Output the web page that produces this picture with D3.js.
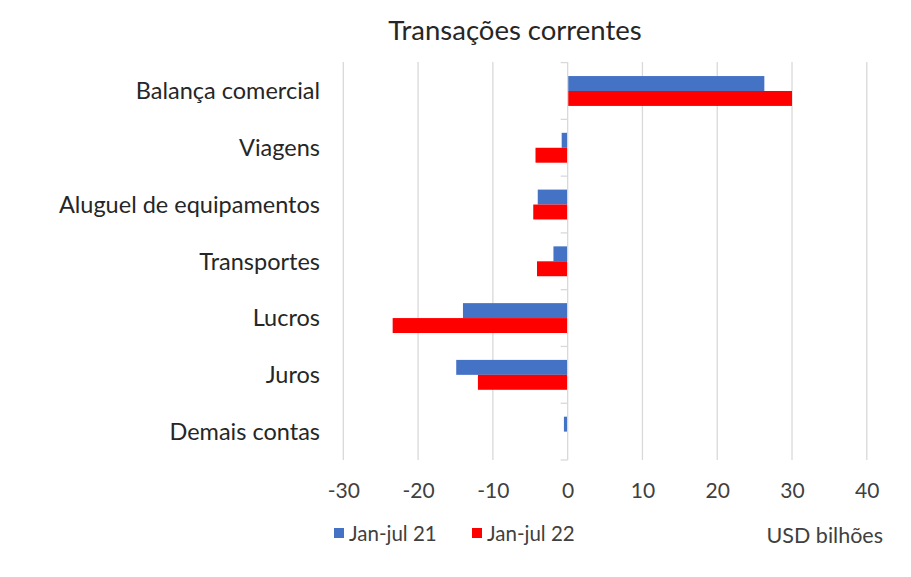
<!DOCTYPE html>
<html><head><meta charset="utf-8">
<script src="https://cdn.jsdelivr.net/npm/d3@7"></script>
<style>body{margin:0;background:#fff}svg{font-family:Lato,sans-serif}</style>
</head><body><svg id="c" width="911" height="577"></svg>
<script>
const categories = ["Balança comercial","Viagens","Aluguel de equipamentos","Transportes","Lucros","Juros","Demais contas"];
const jan21 = [26.3, -0.8, -4.0, -1.9, -14.0, -14.9, -0.5];
const jan22 = [30.0, -4.3, -4.6, -4.1, -23.4, -12.0, 0];
const seriesNames = ["Jan-jul 21","Jan-jul 22"];
const colors = ["#4472C4","#FF0000"];
const xTicks = [-30,-20,-10,0,10,20,30,40];

const svg = d3.select("#c");
const x = d3.scaleLinear().domain([-30,40]).range([343.3,866.8]);
const y = d3.scaleBand().domain(categories).range([62.6,460]).paddingInner(0).paddingOuter(0);
const y1 = d3.scaleBand().domain([0,1]).range([0,y.bandwidth()]).paddingInner(0).paddingOuter(0.9);

svg.append("g").selectAll("line").data(xTicks.filter(d=>d!==0)).join("line")
  .attr("x1",d=>x(d)).attr("x2",d=>x(d)).attr("y1",62).attr("y2",460)
  .attr("stroke","#d9d9d9").attr("stroke-width",1.3);

const data = [jan21, jan22];
categories.forEach((c,i)=>{
  data.forEach((s,j)=>{
    const v = s[i];
    if (v===0) return;
    svg.append("rect")
      .attr("x", x(Math.min(0,v))).attr("width", Math.abs(x(v)-x(0)))
      .attr("y", y(c)+y1(j)).attr("height", y1.bandwidth())
      .attr("fill", colors[j]);
  });
});

svg.append("line").attr("x1",x(0)).attr("x2",x(0)).attr("y1",62).attr("y2",460)
  .attr("stroke","#d9d9d9").attr("stroke-width",1.3);
const bounds = categories.map(c=>y(c)).concat([y.range()[1]]);
svg.append("g").selectAll("line").data(bounds).join("line")
  .attr("x1",x(0)-7).attr("x2",x(0)).attr("y1",d=>d).attr("y2",d=>d)
  .attr("stroke","#d9d9d9").attr("stroke-width",1.3);

svg.append("g").selectAll("text").data(categories).join("text")
  .attr("x",320).attr("y",d=>y(d)+y.bandwidth()/2).attr("dy","0.35em")
  .attr("text-anchor","end").attr("font-size",23.5).attr("fill","#262626").text(d=>d);

const xAxis = d3.axisBottom(x).tickValues(xTicks).tickSize(0).tickPadding(0).tickFormat(d=>String(d));
const gx = svg.append("g").attr("transform","translate(0,491)").call(xAxis);
gx.select(".domain").remove();
gx.selectAll("text").attr("font-size",21).attr("fill","#404040").attr("dy","0.35em")
  .attr("font-family","Lato,sans-serif");

svg.append("text").attr("x",515).attr("y",30).attr("dy","0.35em").attr("text-anchor","middle")
  .attr("font-size",27.5).attr("fill","#262626").text("Transações correntes");

const lx = [334, 472];
seriesNames.forEach((n,j)=>{
  svg.append("rect").attr("x",lx[j]).attr("y",528).attr("width",10).attr("height",10).attr("fill",colors[j]);
  svg.append("text").attr("x",lx[j]+15).attr("y",534).attr("dy","0.35em")
    .attr("font-size",20.5).attr("fill","#404040").text(n);
});
svg.append("text").attr("x",883).attr("y",535).attr("dy","0.35em").attr("text-anchor","end")
  .attr("font-size",21.5).attr("fill","#404040").text("USD bilhões");
</script></body></html>
